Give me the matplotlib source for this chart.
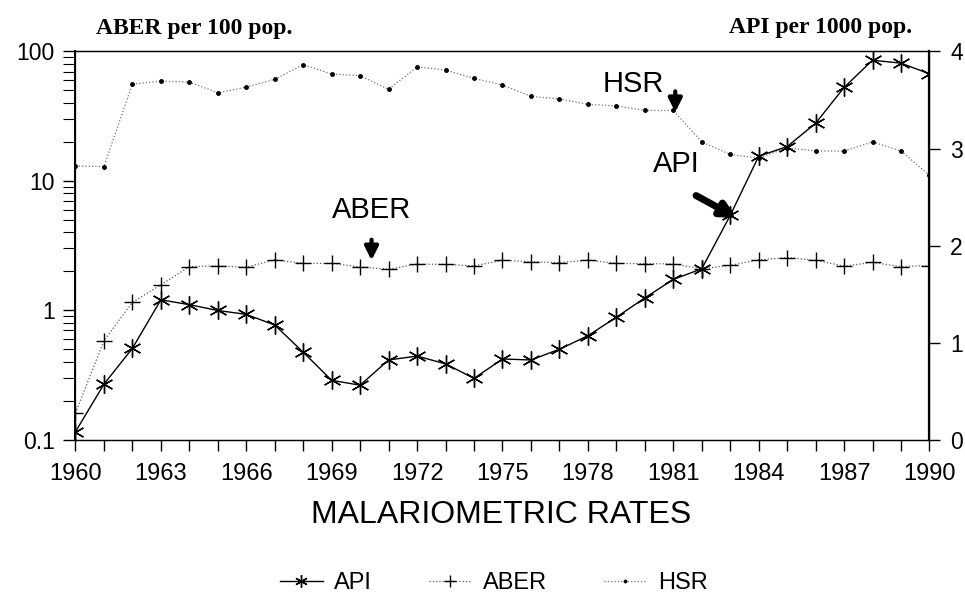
import matplotlib
matplotlib.use("Agg")
import matplotlib.pyplot as plt
import matplotlib.ticker as mticker

years = list(range(1960, 1991))

# API per 1000 pop. (right axis)
api = [0.08, 0.57, 0.94, 1.44, 1.39, 1.33, 1.29, 1.18, 0.90, 0.61,
       0.56, 0.82, 0.86, 0.78, 0.63, 0.83, 0.82, 0.93, 1.07, 1.26,
       1.46, 1.65, 1.76, 2.31, 2.92, 3.02, 3.26, 3.63, 3.91, 3.88, 3.77]

# ABER per 100 pop. (left log axis)
aber = [0.16, 0.58, 1.15, 1.57, 2.17, 2.2, 2.15, 2.45, 2.3, 2.3,
        2.16, 2.07, 2.27, 2.26, 2.2, 2.43, 2.37, 2.33, 2.44, 2.3,
        2.29, 2.28, 2.09, 2.22, 2.45, 2.55, 2.43, 2.19, 2.34, 2.17, 2.21]

# HSR (left log axis)
hsr = [13, 12.9, 56, 59, 58, 48, 53, 61, 79, 67,
       65, 51, 76, 72, 62, 55, 45, 43, 39, 38,
       35, 35, 20, 16, 15, 18, 17, 17, 20, 17, 11]

year_ticks = list(range(1960, 1991, 3))

plt.rcParams['font.family'] = ['Liberation Sans', 'DejaVu Sans']

fig = plt.figure(figsize=(9.65, 5.94), dpi=100)
ax = fig.add_axes([0.0782, 0.2601, 0.885, 0.6532])
ax2 = ax.twinx()

ax.plot(years, aber, color='0.35', linestyle=':', linewidth=0.9,
        marker='+', markersize=12, markeredgecolor='k', markeredgewidth=1.0, label='ABER')
ax.plot(years, hsr, color='0.45', linestyle=':', linewidth=0.9,
        marker='.', markersize=5, markerfacecolor='k', markeredgecolor='k', label='HSR')
ax2.plot(years, api, color='k', linestyle='-', linewidth=1.0,
         marker=(6, 2, 0), markersize=13, markeredgewidth=1.0, label='API')

ax.set_yscale('log')
ax.set_ylim(0.1, 100)
ax.set_xlim(1960, 1990)
ax2.set_ylim(0, 4)

ax.set_xticks(year_ticks)
ax.set_xticks(years, minor=True)
ax.set_yticks([0.1, 1, 10, 100])
ax.yaxis.set_major_formatter(mticker.FixedFormatter(['0.1', '1', '10', '100']))
ax.yaxis.set_minor_formatter(mticker.NullFormatter())
ax2.set_yticks([0, 1, 2, 3, 4])

ax.tick_params(axis='x', which='both', labelsize=17, direction='out', length=8, width=1, pad=9)
ax.tick_params(axis='y', which='major', labelsize=16.5, direction='out', length=9, width=1, pad=6)
ax.tick_params(axis='y', which='minor', direction='out', length=9, width=0.8)
ax2.tick_params(axis='y', labelsize=16.5, direction='out', length=8, width=1, pad=7)

for a in (ax, ax2):
    for s in a.spines.values():
        s.set_linewidth(0.9)
ax2.spines['right'].set_linewidth(1.6)
ax.spines['left'].set_linewidth(1.4)

ax.set_xlabel('MALARIOMETRIC RATES', fontsize=23)
ax.xaxis.set_label_coords(0.498, -0.157)

fig.text(0.10, 0.942, 'ABER per 100 pop.', fontsize=17, fontweight='bold',
         family='Liberation Serif', ha='left', va='baseline')
fig.text(0.945, 0.945, 'API per 1000 pop.', fontsize=17, fontweight='bold',
         family='Liberation Serif', ha='right', va='baseline')

# labels and arrows
arrow_small = dict(arrowstyle='-|>', color='k', lw=3, mutation_scale=20,
                   shrinkA=0, shrinkB=0)
ax2.text(1970.4, 2.364, 'ABER', fontsize=21, ha='center', va='center')
ax2.annotate('', xy=(1970.4, 1.847), xytext=(1970.4, 2.06), arrowprops=arrow_small)
ax2.text(1979.6, 3.663, 'HSR', fontsize=21, ha='center', va='center')
ax2.annotate('', xy=(1981.07, 3.374), xytext=(1981.07, 3.59), arrowprops=arrow_small)
ax2.text(1981.1, 2.838, 'API', fontsize=21, ha='center', va='center')
ax2.annotate('', xy=(1983.24, 2.284), xytext=(1981.8, 2.515),
             arrowprops=dict(arrowstyle='-|>', color='k', lw=5, mutation_scale=22,
                             shrinkA=0, shrinkB=0))

h1, l1 = ax2.get_legend_handles_labels()
h2, l2 = ax.get_legend_handles_labels()
fig.legend(h1 + h2, l1 + l2, loc='center', bbox_to_anchor=(0.512, 0.0185),
           ncol=3, frameon=False, fontsize=17, handlelength=1.8, columnspacing=2.4,
           handletextpad=0.5, markerscale=0.7)

fig.savefig('out.png', dpi=100)
